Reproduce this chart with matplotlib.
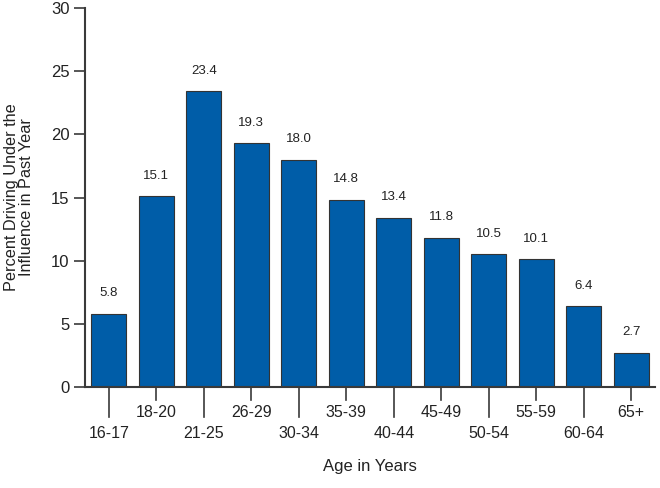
import matplotlib
matplotlib.use("Agg")
import matplotlib.pyplot as plt

categories = ["16-17", "18-20", "21-25", "26-29", "30-34", "35-39", "40-44",
              "45-49", "50-54", "55-59", "60-64", "65+"]
values = [5.8, 15.1, 23.4, 19.3, 18.0, 14.8, 13.4, 11.8, 10.5, 10.1, 6.4, 2.7]
y_ticks = [0, 5, 10, 15, 20, 25, 30]

plt.rcParams['font.family'] = ['Liberation Sans', 'DejaVu Sans']
axis_col = '#3a3a3a'
text_col = '#222222'

fig = plt.figure(figsize=(6.6, 4.88), dpi=100)
ax = fig.add_axes([85/660, 1-387/488, 570/660, 379/488])

x = list(range(len(categories)))
ax.bar(x, values, width=0.74, color='#005DA8', edgecolor='#333333', linewidth=0.8, zorder=2)
for xi, v in zip(x, values):
    ax.text(xi, v + 1.15, f"{v:.1f}", ha='center', va='bottom', fontsize=9.5, color=text_col)

ax.set_xlim(-0.5, 11.5)
ax.set_ylim(0, 30)
ax.set_yticks(y_ticks)
ax.tick_params(axis='y', direction='out', length=8, width=1.2, color=axis_col,
               labelsize=12, labelcolor=text_col, pad=3)
ax.set_xticks(x)
ax.set_xticklabels([])
ax.tick_params(axis='x', length=0)

for s in ['top', 'right']:
    ax.spines[s].set_visible(False)
for s in ['left', 'bottom']:
    ax.spines[s].set_color(axis_col)
    ax.spines[s].set_linewidth(1.5)

trans = ax.get_xaxis_transform()
px = 1/379
for i, lab in enumerate(categories):
    if i % 2 == 0:
        ax.plot([i, i], [0, -30*px], color=axis_col, lw=1.2, transform=trans, clip_on=False)
        ax.text(i, -39*px, lab, ha='center', va='top', fontsize=11.5, color=text_col, transform=trans)
    else:
        ax.plot([i, i], [0, -13*px], color=axis_col, lw=1.2, transform=trans, clip_on=False)
        ax.text(i, -18*px, lab, ha='center', va='top', fontsize=11.5, color=text_col, transform=trans)

fig.text(0.5*(85+655)/660, 1-467/488, "Age in Years", ha='center', va='center', fontsize=12, color=text_col)
fig.text(19/660, 1-197/488, "Percent Driving Under the\nInfluence in Past Year", ha='center', va='center',
         rotation=90, fontsize=11.7, color=text_col, linespacing=1.05)

fig.savefig("out.png", dpi=100)
